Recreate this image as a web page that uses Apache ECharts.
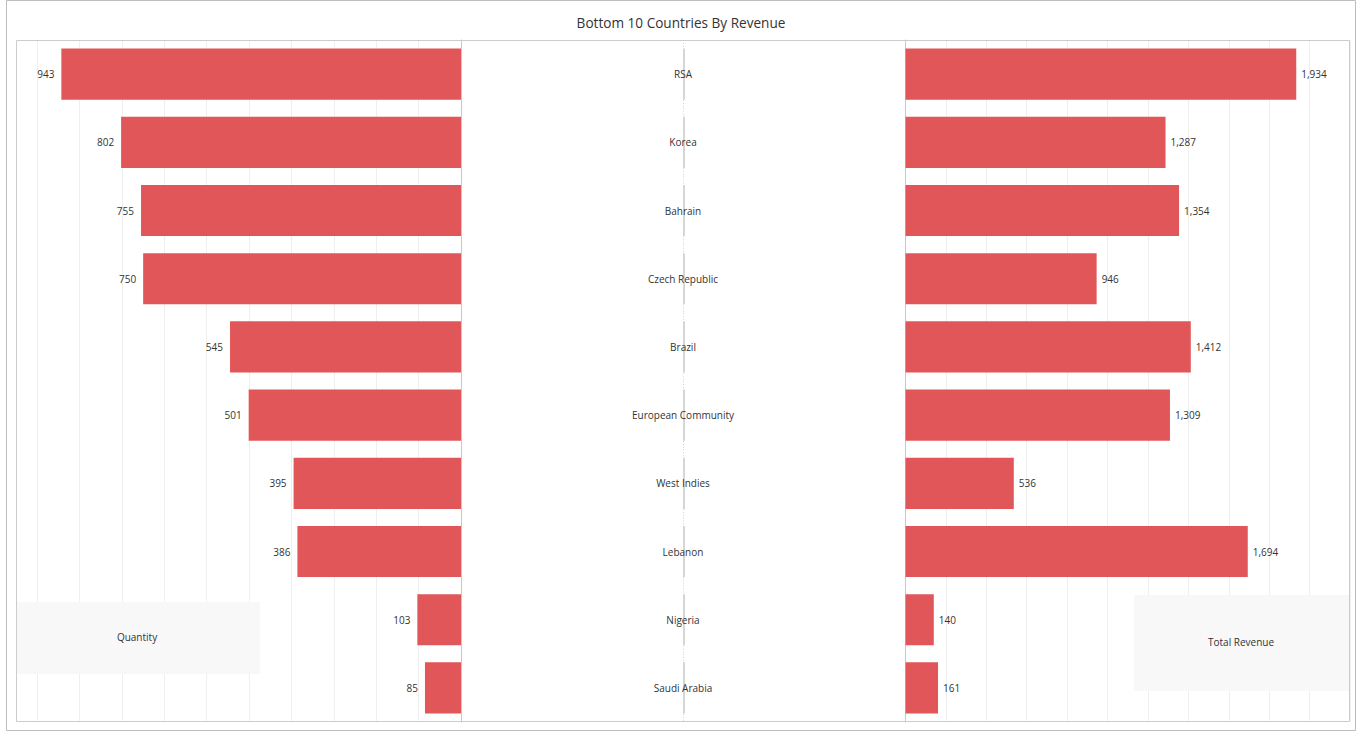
<!DOCTYPE html>
<html><head><meta charset="utf-8">
<script src="https://cdn.jsdelivr.net/npm/echarts@6/dist/echarts.min.js"></script>
<style>html,body{margin:0;padding:0;background:#fff}#c{width:1362px;height:734px}</style>
</head><body><div id="c"></div>
<script>
const countries = ['RSA','Korea','Bahrain','Czech Republic','Brazil','European Community','West Indies','Lebanon','Nigeria','Saudi Arabia'];
const quantity = [943, 802, 755, 750, 545, 501, 395, 386, 103, 85];
const revenue = [1934, 1287, 1354, 946, 1412, 1309, 536, 1694, 140, 161];
const quantityAxis = {min: 0, max: 1050, interval: 100};
const revenueAxis = {min: 0, max: 2200, interval: 200};

const RED = '#E15759';
const FONT = '"Open Sans", "Noto Sans", sans-serif';
const fmt = v => v.toLocaleString('en-US');

const chart = echarts.init(document.getElementById('c'), null, {renderer: 'svg'});
const splitLine = {show: true, lineStyle: {color: '#efefef', width: 1}};
const catAxisBase = {type: 'category', data: countries, inverse: true, axisTick: {show: false}};

chart.setOption({
  animation: false,
  title: {text: 'Bottom 10 Countries By Revenue', left: 'center', top: 10,
    textStyle: {fontFamily: FONT, fontSize: 13.6, fontWeight: 'normal', color: '#333'}},
  grid: [
    {left: 16, top: 40, width: 445, height: 682},
    {left: 461, top: 40, width: 444, height: 682},
    {left: 905.5, top: 40, width: 444.5, height: 682}
  ],
  xAxis: [
    {gridIndex: 0, type: 'value', inverse: true, min: quantityAxis.min, max: quantityAxis.max, interval: quantityAxis.interval,
      axisLine: {show: false}, axisTick: {show: false}, axisLabel: {show: false}, splitLine: splitLine},
    {gridIndex: 1, type: 'value', min: -1, max: 1, show: false},
    {gridIndex: 2, type: 'value', min: revenueAxis.min, max: revenueAxis.max, interval: revenueAxis.interval,
      axisLine: {show: false}, axisTick: {show: false}, axisLabel: {show: false}, splitLine: splitLine}
  ],
  yAxis: [
    Object.assign({gridIndex: 0, position: 'right', axisLine: {show: true, onZero: false, lineStyle: {color: '#c8c8c8'}}, axisLabel: {show: false}}, catAxisBase),
    Object.assign({gridIndex: 1, position: 'left', axisLine: {show: false}, z: 10,
      axisLabel: {show: true, margin: -222, align: 'center', verticalAlign: 'middle', fontFamily: FONT, fontSize: 10, color: '#333'}}, catAxisBase),
    Object.assign({gridIndex: 2, position: 'left', axisLine: {show: true, onZero: false, lineStyle: {color: '#c8c8c8'}}, axisLabel: {show: false}}, catAxisBase)
  ],
  series: [
    {type: 'bar', xAxisIndex: 0, yAxisIndex: 0, data: quantity, barCategoryGap: '25%',
      itemStyle: {color: RED},
      label: {show: true, position: 'left', distance: 7, fontFamily: FONT, fontSize: 10, color: '#333', formatter: p => fmt(p.value)}},
    {type: 'custom', xAxisIndex: 1, yAxisIndex: 1, data: countries.map((c, i) => [0, i]),
      renderItem: function (params, api) {
        const p = api.coord([0, api.value(1)]);
        const band = api.size([0, 1])[1];
        const h = band * 0.75;
        return {type: 'group', children: [
          {type: 'line', shape: {x1: p[0] + 0.5, y1: p[1] - band / 2, x2: p[0] + 0.5, y2: p[1] + band / 2},
            style: {stroke: '#d0d0d0', lineWidth: 1, lineDash: [1, 2]}},
          {type: 'rect', shape: {x: p[0], y: p[1] - h / 2, width: 2, height: h}, style: {fill: '#d6d6d6'}}
        ]};
      }, z: 1},
    {type: 'bar', xAxisIndex: 2, yAxisIndex: 2, data: revenue, barCategoryGap: '25%',
      itemStyle: {color: RED},
      label: {show: true, position: 'right', distance: 5, fontFamily: FONT, fontSize: 10, color: '#333', formatter: p => fmt(p.value)}}
  ],
  graphic: [
    {type: 'rect', shape: {x: 6.5, y: 0.5, width: 1349, height: 730}, style: {fill: 'none', stroke: '#bdbdbd', lineWidth: 1}, z: 100},
    {type: 'rect', shape: {x: 16.5, y: 40.5, width: 1333, height: 681}, style: {fill: 'none', stroke: '#cccccc', lineWidth: 1}, z: 100},
    {type: 'rect', shape: {x: 16, y: 602, width: 244, height: 72}, style: {fill: '#f8f8f8'}, z: 50},
    {type: 'text', x: 137, y: 637, style: {text: 'Quantity', fontFamily: FONT, fontSize: 10, fill: '#333', align: 'center', verticalAlign: 'middle'}, z: 51},
    {type: 'rect', shape: {x: 1134, y: 595, width: 216, height: 96}, style: {fill: '#f8f8f8'}, z: 50},
    {type: 'text', x: 1241, y: 642, style: {text: 'Total Revenue', fontFamily: FONT, fontSize: 10, fill: '#333', align: 'center', verticalAlign: 'middle'}, z: 51}
  ]
});
</script></body></html>
